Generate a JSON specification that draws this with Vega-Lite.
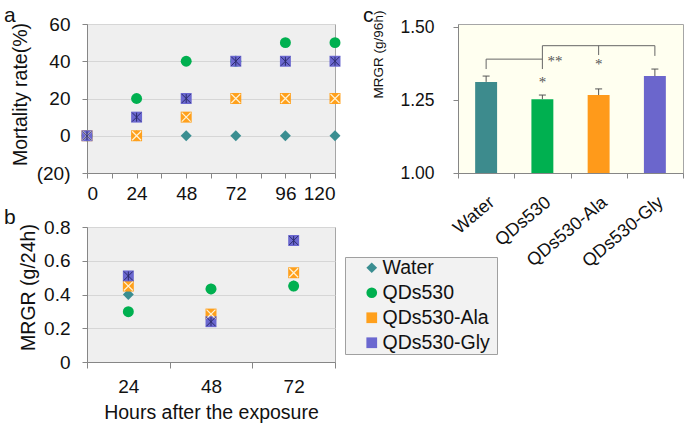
{
  "$schema": "https://vega.github.io/schema/vega-lite/v6.json",
  "padding": {"left": 3, "top": 4, "right": 0, "bottom": 0},
  "background": "white",
  "config": {
    "font": "Liberation Sans",
    "axis": {"labelFont": "Liberation Sans", "titleFont": "Liberation Sans", "labelFontSize": 19, "titleFontSize": 19.5, "titleFontWeight": "normal", "labelColor": "#111", "titleColor": "#111", "domainColor": "#868686", "tickColor": "#868686", "tickSize": 5, "gridColor": "#d6d6d6"},
    "title": {"font": "Liberation Sans", "fontSize": 21, "fontWeight": "normal", "color": "#111", "orient": "none", "anchor": "start", "align": "left", "baseline": "alphabetic", "frame": "group"},
    "legend": {"fillColor": "#f2f2f2", "strokeColor": "#a0a0a0", "padding": 1, "labelFont": "Liberation Sans", "labelFontSize": 19.5, "labelColor": "#111", "symbolSize": 115, "rowPadding": 4, "symbolOffset": 16, "labelOffset": 1, "symbolStrokeWidth": 0, "titleOrient": "right", "titlePadding": 6, "titleFontSize": 10}
  },
  "datasets": {
    "mort": [
      {"series": "Water", "hour": 0, "rate": 0},
      {"series": "Water", "hour": 24, "rate": 0},
      {"series": "Water", "hour": 48, "rate": 0},
      {"series": "Water", "hour": 72, "rate": 0},
      {"series": "Water", "hour": 96, "rate": 0},
      {"series": "Water", "hour": 120, "rate": 0},
      {"series": "QDs530", "hour": 0, "rate": 0},
      {"series": "QDs530", "hour": 24, "rate": 20},
      {"series": "QDs530", "hour": 48, "rate": 40},
      {"series": "QDs530", "hour": 72, "rate": 40},
      {"series": "QDs530", "hour": 96, "rate": 50},
      {"series": "QDs530", "hour": 120, "rate": 50},
      {"series": "QDs530-Ala", "hour": 0, "rate": 0},
      {"series": "QDs530-Ala", "hour": 24, "rate": 0},
      {"series": "QDs530-Ala", "hour": 48, "rate": 10},
      {"series": "QDs530-Ala", "hour": 72, "rate": 20},
      {"series": "QDs530-Ala", "hour": 96, "rate": 20},
      {"series": "QDs530-Ala", "hour": 120, "rate": 20},
      {"series": "QDs530-Gly", "hour": 0, "rate": 0},
      {"series": "QDs530-Gly", "hour": 24, "rate": 10},
      {"series": "QDs530-Gly", "hour": 48, "rate": 20},
      {"series": "QDs530-Gly", "hour": 72, "rate": 40},
      {"series": "QDs530-Gly", "hour": 96, "rate": 40},
      {"series": "QDs530-Gly", "hour": 120, "rate": 40}
    ],
    "mrgr": [
      {"series": "Water", "hour": "24", "mrgr": 0.40},
      {"series": "Water", "hour": "48", "mrgr": 0.433},
      {"series": "Water", "hour": "72", "mrgr": 0.45},
      {"series": "QDs530", "hour": "24", "mrgr": 0.298},
      {"series": "QDs530", "hour": "48", "mrgr": 0.433},
      {"series": "QDs530", "hour": "72", "mrgr": 0.45},
      {"series": "QDs530-Ala", "hour": "24", "mrgr": 0.45},
      {"series": "QDs530-Ala", "hour": "48", "mrgr": 0.284},
      {"series": "QDs530-Ala", "hour": "72", "mrgr": 0.529},
      {"series": "QDs530-Gly", "hour": "24", "mrgr": 0.51},
      {"series": "QDs530-Gly", "hour": "48", "mrgr": 0.239},
      {"series": "QDs530-Gly", "hour": "72", "mrgr": 0.72}
    ],
    "bars": [
      {"group": "Water", "mean": 1.312, "upper": 1.332},
      {"group": "QDs530", "mean": 1.253, "upper": 1.267},
      {"group": "QDs530-Ala", "mean": 1.267, "upper": 1.288},
      {"group": "QDs530-Gly", "mean": 1.332, "upper": 1.356}
    ],
    "brackets": [
      {"g1": "Water", "g2": "QDs530", "v1": 1.390, "v2": 1.390},
      {"g1": "Water", "g2": "Water", "v1": 1.390, "v2": 1.356},
      {"g1": "QDs530", "g2": "QDs530", "v1": 1.436, "v2": 1.356},
      {"g1": "QDs530", "g2": "QDs530-Gly", "v1": 1.436, "v2": 1.436},
      {"g1": "QDs530-Ala", "g2": "QDs530-Ala", "v1": 1.436, "v2": 1.404},
      {"g1": "QDs530-Gly", "g2": "QDs530-Gly", "v1": 1.436, "v2": 1.401}
    ],
    "stars": [
      {"group": "QDs530", "label": "*", "v": 1.313},
      {"group": "QDs530", "label": "**", "v": 1.385},
      {"group": "QDs530-Ala", "label": "*", "v": 1.373}
    ]
  },
  "columns": 2,
  "spacing": {"row": 54, "column": 123},
  "bounds": "flush",
  "concat": [
    {
      "width": 248,
      "height": 149,
      "title": {"text": "a", "orient": "none", "dx": -83, "dy": -19},
      "view": {"fill": "#efefef", "stroke": "#a6a6a6"},
      "data": {"name": "mort"},
      "encoding": {
        "x": {"field": "hour", "type": "quantitative", "scale": {"domain": [0, 120], "nice": false}, "axis": {"values": [0, 12, 24, 36, 48, 60, 72, 84, 96, 108, 120], "labelExpr": "datum.value % 24 === 0 ? datum.label : ''", "grid": false, "title": null, "labelPadding": 6}},
        "y": {"field": "rate", "type": "quantitative", "scale": {"domain": [-20, 60], "nice": false}, "axis": {"values": [-20, 0, 20, 40, 60], "labelExpr": "datum.value < 0 ? '(' + (-datum.value) + ')' : datum.label", "grid": true, "title": "Mortality rate(%)", "labelPadding": 12, "titleX": -61, "titleY": 70, "titleBaseline": "alphabetic", "titleAlign": "center", "titleAngle": -90}}
      },
      "layer": [
        {
          "mark": {"type": "point", "filled": true, "opacity": 1, "size": 120, "strokeWidth": 0},
          "encoding": {
            "color": {"field": "series", "type": "nominal", "scale": {"domain": ["Water", "QDs530", "QDs530-Ala", "QDs530-Gly"], "range": ["#3a8e91", "#00b050", "#ffa01c", "#6b68d0"]}, "legend": {"orient": "none", "legendX": 258, "legendY": 233, "title": "\u00a0", "direction": "vertical"}},
            "shape": {"field": "series", "type": "nominal", "scale": {"domain": ["Water", "QDs530", "QDs530-Ala", "QDs530-Gly"], "range": ["diamond", "circle", "square", "square"]}, "legend": {"orient": "none", "legendX": 258, "legendY": 233, "title": "\u00a0", "direction": "vertical"}}
          }
        },
        {
          "transform": [{"filter": "datum.series === 'QDs530-Ala'"}],
          "mark": {"type": "point", "shape": "M-1,-1L1,1M-1,1L1,-1", "filled": false, "opacity": 1, "size": 80, "stroke": "#fff3d6", "strokeWidth": 1.2}
        },
        {
          "transform": [{"filter": "datum.series === 'QDs530-Gly'"}],
          "mark": {"type": "point", "shape": "M-1,-1L1,1M-1,1L1,-1M0,-1L0,1", "filled": false, "opacity": 1, "size": 80, "stroke": "#2b2b6b", "strokeWidth": 1}
        }
      ]
    },
    {
      "width": 225,
      "height": 149,
      "title": {"text": "c", "orient": "none", "dx": -95, "dy": -19},
      "view": {"fill": "#fffff0", "stroke": "#a6a6a6"},
      "layer": [
        {
          "data": {"name": "bars"},
          "mark": {"type": "bar", "width": {"band": 0.39}},
          "encoding": {
            "x": {"field": "group", "type": "nominal", "sort": null, "scale": {"domain": ["Water", "QDs530", "QDs530-Ala", "QDs530-Gly"], "paddingInner": 0, "paddingOuter": 0}, "axis": {"tickBand": "extent", "labelAngle": -40, "labelFontSize": 18, "labelPadding": 15, "title": null}},
            "y": {"field": "mean", "type": "quantitative", "scale": {"domain": [1, 1.5103], "nice": false, "zero": false}, "axis": {"values": [1, 1.25, 1.5], "format": ".2f", "grid": false, "labelFontSize": 17.5, "labelPadding": 19, "title": "MRGR (g/96h)", "titleFontSize": 13.5, "titleX": -76, "titleY": 30, "titleBaseline": "alphabetic", "titleAlign": "center", "titleAngle": -90}},
            "y2": {"datum": 1},
            "fill": {"field": "group", "type": "nominal", "scale": {"domain": ["Water", "QDs530", "QDs530-Ala", "QDs530-Gly"], "range": ["#3d8b8d", "#00b050", "#ff9a1a", "#6b66cc"]}, "legend": null}
          }
        },
        {
          "data": {"name": "bars"},
          "mark": {"type": "rule", "color": "#555", "strokeWidth": 1},
          "encoding": {
            "x": {"field": "group", "type": "nominal"},
            "y": {"field": "mean", "type": "quantitative"},
            "y2": {"field": "upper"}
          }
        },
        {
          "data": {"name": "bars"},
          "mark": {"type": "tick", "color": "#555", "size": 7, "thickness": 1, "orient": "horizontal", "opacity": 1},
          "encoding": {
            "x": {"field": "group", "type": "nominal"},
            "y": {"field": "upper", "type": "quantitative"}
          }
        },
        {
          "data": {"name": "brackets"},
          "mark": {"type": "rule", "color": "#666", "strokeWidth": 1},
          "encoding": {
            "x": {"field": "g1", "type": "nominal"},
            "x2": {"field": "g2"},
            "y": {"field": "v1", "type": "quantitative"},
            "y2": {"field": "v2"}
          }
        },
        {
          "data": {"name": "stars"},
          "transform": [{"filter": "datum.label === '*'"}],
          "mark": {"type": "text", "font": "Liberation Serif", "fontSize": 15, "color": "#555", "baseline": "middle", "align": "center"},
          "encoding": {
            "x": {"field": "group", "type": "nominal"},
            "y": {"field": "v", "type": "quantitative"},
            "text": {"field": "label"}
          }
        },
        {
          "data": {"name": "stars"},
          "transform": [{"filter": "datum.label === '**'"}],
          "mark": {"type": "text", "font": "Liberation Serif", "fontSize": 15, "color": "#555", "baseline": "middle", "align": "left", "dx": 5},
          "encoding": {
            "x": {"field": "group", "type": "nominal"},
            "y": {"field": "v", "type": "quantitative"},
            "text": {"field": "label"}
          }
        }
      ]
    },
    {
      "width": 248,
      "height": 135,
      "title": {"text": "b", "orient": "none", "dx": -83, "dy": -20},
      "view": {"fill": "#efefef", "stroke": "#a6a6a6"},
      "data": {"name": "mrgr"},
      "encoding": {
        "x": {"field": "hour", "type": "ordinal", "scale": {"domain": ["24", "48", "72"], "paddingInner": 0, "paddingOuter": 0}, "axis": {"tickBand": "extent", "labelAngle": 0, "title": "Hours after the exposure", "labelPadding": 9, "titlePadding": 7.5, "tickSize": 6}},
        "y": {"field": "mrgr", "type": "quantitative", "scale": {"domain": [0, 0.8], "nice": false}, "axis": {"values": [0, 0.2, 0.4, 0.6, 0.8], "labelExpr": "datum.value === 0 ? '0' : datum.label", "grid": true, "labelPadding": 12, "title": "MRGR (g/24h)", "titleX": -53, "titleY": 60, "titleBaseline": "alphabetic", "titleAlign": "center", "titleAngle": -90}}
      },
      "layer": [
        {
          "mark": {"type": "point", "filled": true, "opacity": 1, "size": 120, "strokeWidth": 0},
          "encoding": {
            "color": {"field": "series", "type": "nominal", "scale": {"domain": ["Water", "QDs530", "QDs530-Ala", "QDs530-Gly"], "range": ["#3a8e91", "#00b050", "#ffa01c", "#6b68d0"]}, "legend": {"orient": "none", "legendX": 258, "legendY": 233, "title": "\u00a0", "direction": "vertical"}},
            "shape": {"field": "series", "type": "nominal", "scale": {"domain": ["Water", "QDs530", "QDs530-Ala", "QDs530-Gly"], "range": ["diamond", "circle", "square", "square"]}, "legend": {"orient": "none", "legendX": 258, "legendY": 233, "title": "\u00a0", "direction": "vertical"}}
          }
        },
        {
          "transform": [{"filter": "datum.series === 'QDs530-Ala'"}],
          "mark": {"type": "point", "shape": "M-1,-1L1,1M-1,1L1,-1", "filled": false, "opacity": 1, "size": 80, "stroke": "#fff3d6", "strokeWidth": 1.2}
        },
        {
          "transform": [{"filter": "datum.series === 'QDs530-Gly'"}],
          "mark": {"type": "point", "shape": "M-1,-1L1,1M-1,1L1,-1M0,-1L0,1", "filled": false, "opacity": 1, "size": 80, "stroke": "#2b2b6b", "strokeWidth": 1}
        }
      ]
    }
  ]
}
